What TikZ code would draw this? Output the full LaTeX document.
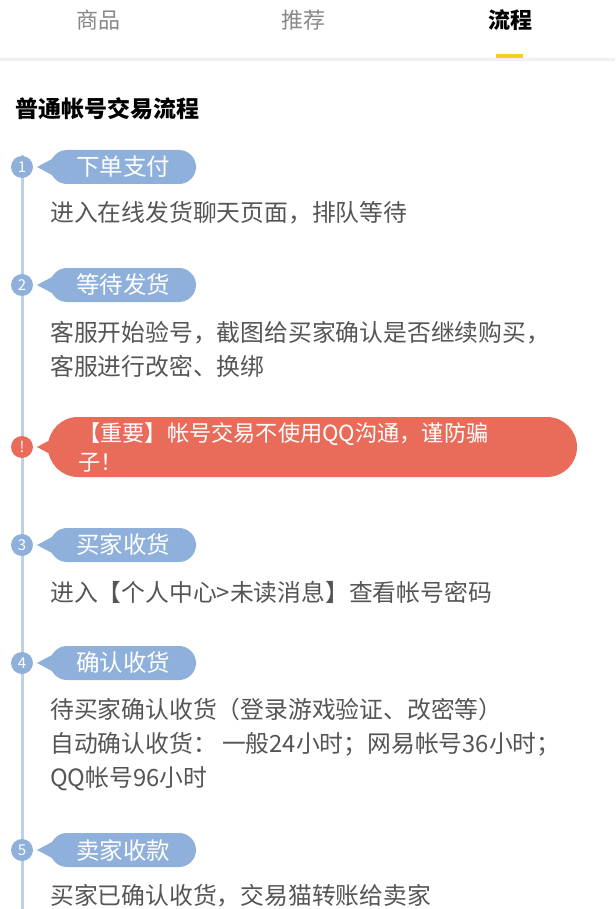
\documentclass[tikz,border=0pt]{standalone}
\usepackage{fontspec}
\setmainfont{Noto Sans CJK SC}
\definecolor{pillblue}{HTML}{8EB0DA}
\definecolor{pillred}{HTML}{E96C5B}
\definecolor{linec}{HTML}{BCD0E8}
\definecolor{txt}{HTML}{555555}
\definecolor{tabc}{HTML}{888888}
\definecolor{yel}{HTML}{F5D01C}
\begin{document}
\begin{tikzpicture}[x=1pt,y=-1pt,
  num/.style={circle,fill=pillblue,text=white,minimum size=22pt,inner sep=0pt,font=\fontsize{15}{15}\selectfont},
  body/.style={anchor=west,text=txt,font=\fontsize{23.8}{34}\selectfont,align=left,inner sep=0pt},
  pilltxt/.style={text=white,font=\fontsize{23.5}{23.5}\selectfont,inner sep=0pt},
  tab/.style={text=tabc,font=\fontsize{22}{22}\selectfont}]
\useasboundingbox[fill=white] (0,0) rectangle (615,909);
% header
\node[tab] (t1) at (98,20) {商品};
\node[tab] (t2) at (303,20) {推荐};
\node[font=\fontsize{22}{22}\selectfont\bfseries] (t3) at (510,20) {流程};
\fill[yel] (496,54) rectangle (523,59);
\fill[black!6] (0,58) rectangle (615,61);
\node[anchor=west,font=\fontsize{23}{23}\selectfont\bfseries,inner sep=0pt] (title) at (15,109) {普通帐号交易流程};
\fill[linec] (20.5,155) rectangle (23.5,909);
\newcommand{\mypill}[6]{% y, x1, x2, h, color, name
  \fill[#5,rounded corners=#4/2] (#2,#1-#4/2) rectangle (#3,#1+#4/2);
  \fill[#5] (37,#1) -- (52,#1-8) -- (52,#1+8) -- cycle;
  \coordinate (#6) at ({(#2+#3)/2},#1);}
\foreach \y/\n/\t/\c in {167/1/下单支付/p1,285/2/等待发货/p2,545/3/买家收货/p3,663/4/确认收货/p4,850/5/卖家收款/p5}{
  \node[num] (n\n) at (22,\y) {\n};
  \mypill{\y}{50}{196}{34}{pillblue}{\c}
  \node[pilltxt] at (\c) {\t};
}
\node[num,fill=pillred] (nx) at (22,447) {!};
\mypill{447}{48}{577}{60}{pillred}{px}
\node[anchor=west,text=white,font=\fontsize{22.2}{29}\selectfont,align=left,inner sep=0pt] (warn) at (78,447) {【重要】帐号交易不使用QQ沟通，谨防骗\\子！};
\node[body] (b1) at (50,213) {进入在线发货聊天页面，排队等待};
\node[body] (b2) at (50,349) {客服开始验号，截图给买家确认是否继续购买，\\客服进行改密、换绑};
\node[body] (b3) at (50,592) {进入【个人中心>未读消息】查看帐号密码};
\node[body] (b4) at (50,744) {待买家确认收货（登录游戏验证、改密等）\\自动确认收货： 一般24小时；网易帐号36小时；\\QQ帐号96小时};
\node[body] (b5) at (50,896) {买家已确认收货，交易猫转账给卖家};
\end{tikzpicture}
\end{document}
